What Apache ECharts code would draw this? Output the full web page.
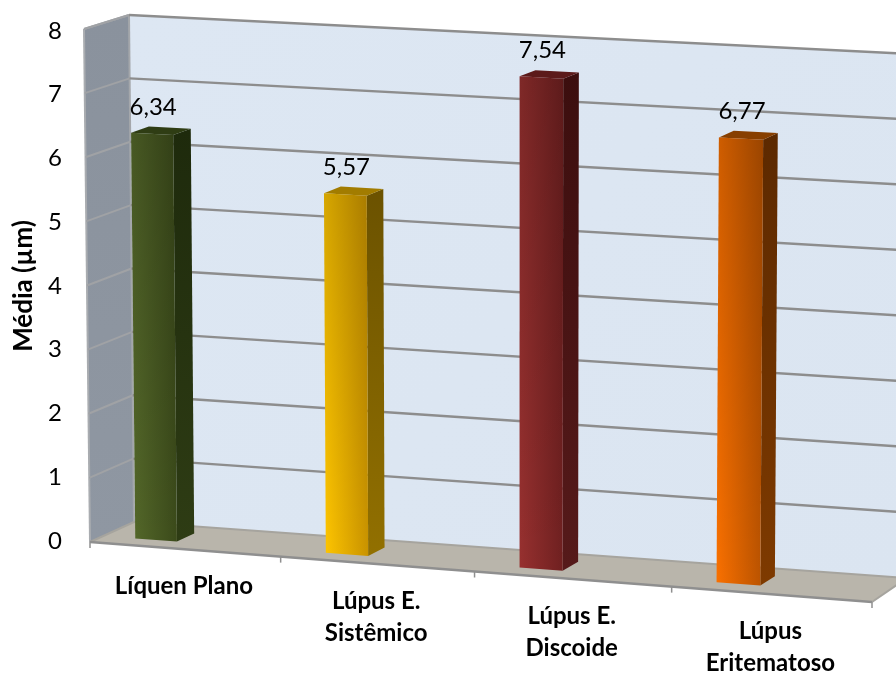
<!DOCTYPE html>
<html>
<head>
<meta charset="utf-8">
<style>html,body{margin:0;padding:0;background:#fff}#chart{width:896px;height:674px}</style>
<script src="https://cdn.jsdelivr.net/npm/echarts@6/dist/echarts.min.js"></script>
</head>
<body>
<div id="chart"></div>
<script>
// Mean measurement per diagnosis
const categories = ['Líquen Plano', 'Lúpus E.\nSistêmico', 'Lúpus E.\nDiscoide', 'Lúpus\nEritematoso'];
const values = [6.34, 5.57, 7.54, 6.77];
const yTicks = [0, 1, 2, 3, 4, 5, 6, 7, 8];
const axisTitle = 'Média (µm)';

// Bar shades: front-left, front-right, side top, side bottom, cap
const barShades = [
  ['#55692a', '#3b4a1a', '#1e2a0c', '#2e3c14', '#2f3d14'],
  ['#ffc600', '#c99300', '#6b5200', '#927000', '#a27c00'],
  ['#97302f', '#6f2020', '#3c0e0e', '#561a1a', '#5c1a1a'],
  ['#f97000', '#b85200', '#5c2900', '#7e3a00', '#873f00']
];

// Plot rectangle of the flat axes
const gridLeft = 90, gridRight = 871, gridTop = 31, gridBottom = 541;

// Corners of the chart box on screen, used to tilt the flat plot into perspective
const box = {
  fbl: [90, 542], fbr: [872, 602], ftl: [84, 29], ftr: [877, 70],
  bbl: [134, 522], bbr: [907, 578], btl: [129, 15], btr: [912, 54]
};
const foreshorten = 0.033;
const mix = (a, b, t) => [a[0] + (b[0] - a[0]) * t, a[1] + (b[1] - a[1]) * t];

function tilt(px, py, depth) {
  const raw = (px - gridLeft) / (gridRight - gridLeft);
  const u = raw - foreshorten * raw * (1 - raw);
  const v = (gridBottom - py) / (gridBottom - gridTop);
  const front = mix(mix(box.fbl, box.fbr, u), mix(box.ftl, box.ftr, u), v);
  const back = mix(mix(box.bbl, box.bbr, u), mix(box.btl, box.btr, u), v);
  return mix(front, back, depth);
}

// Position on the tilted box for an axis value pair
function place(api, cat, val, depth, bandShift) {
  const p = api.coord([cat, val]);
  return tilt(p[0] + (bandShift || 0) * api.size([1, 0])[0], p[1], depth);
}

const lineColor = '#8d8d8d';
const poly = (points, style) => ({ type: 'polygon', shape: { points }, style });
const stroke = (a, b, color, width) => ({
  type: 'line',
  shape: { x1: a[0], y1: a[1], x2: b[0], y2: b[1] },
  style: { stroke: color || lineColor, lineWidth: width || 2.4 }
});
const vgrad = (x2, y2, c0, c1) => ({ type: 'linear', x: 0, y: 0, x2, y2, colorStops: [{ offset: 0, color: c0 }, { offset: 1, color: c1 }] });

// Walls and floor of the box
function renderBox(params, api) {
  const n = categories.length - 1;
  const vMax = yTicks[yTicks.length - 1];
  const fl0 = place(api, 0, 0, 0, -0.5), fr0 = place(api, n, 0, 0, 0.5);
  const bl0 = place(api, 0, 0, 1, -0.5), br0 = place(api, n, 0, 1, 0.5);
  const flT = place(api, 0, vMax, 0, -0.5);
  const blT = place(api, 0, vMax, 1, -0.5), brT = place(api, n, vMax, 1, 0.5);
  const children = [
    poly([bl0, br0, brT, blT], { fill: vgrad(1, 1, '#dde7f3', '#dbe5f1') }),
    poly([fl0, bl0, blT, flT], { fill: vgrad(0, 1, '#8a929d', '#8f97a2') }),
    poly([fl0, fr0, br0, bl0], { fill: '#b9b5ab' })
  ];
  children.push(stroke(flT, blT, '#a4a7ab', 2), stroke(fl0, flT, '#a9acb0', 2), stroke(bl0, blT, '#a4a7ab', 2));
  children.push(stroke(bl0, br0, '#a6a49e', 2), stroke(fl0, bl0, '#a6a49e', 2), stroke(fr0, br0, '#a6a49e', 2));
  children.push(stroke(fl0, fr0, '#8f8f8f', 2.5));
  // Tick marks under the front edge of the floor
  for (let i = 0; i <= categories.length; i++) {
    const t = place(api, 0, 0, 0, i - 0.5);
    children.push(stroke(t, [t[0], t[1] + 6], '#8f8f8f', 1.5));
  }
  return { type: 'group', children };
}

// One gridline per tick across the side and back walls
function renderGridline(params, api) {
  const n = categories.length - 1;
  const v = api.value(1);
  if (v === 0) return { type: 'group', children: [] };
  const a = place(api, 0, v, 0, -0.5), b = place(api, 0, v, 1, -0.5), c = place(api, n, v, 1, 0.5);
  return { type: 'group', children: [stroke(a, b, '#a0a2a5', 2), stroke(b, c)] };
}

// Box-shaped column with its value on top
function renderBar(params, api) {
  const i = api.value(0), v = api.value(1);
  const s = barShades[i];
  const near = 0.3, far = 0.7, left = -0.33, right = -0.11;
  const fl0 = place(api, i, 0, near, left), fr0 = place(api, i, 0, near, right);
  const flT = place(api, i, v, near, left), frT = place(api, i, v, near, right);
  const br0 = place(api, i, 0, far, right), brT = place(api, i, v, far, right);
  const blT = place(api, i, v, far, left);
  const mid = mix(flT, frT, 0.5);
  return {
    type: 'group',
    children: [
      poly([fr0, br0, brT, frT], { fill: vgrad(0, 1, s[2], s[3]) }),
      poly([flT, frT, brT, blT], { fill: s[4] }),
      poly([fl0, fr0, frT, flT], { fill: vgrad(1, 0, s[0], s[1]) }),
      poly([fl0, fr0, frT, flT], { fill: vgrad(0, 1, 'rgba(0,0,0,0.16)', 'rgba(0,0,0,0)') }),
      {
        type: 'text',
        style: {
          x: mid[0] + 1, y: mid[1] - 27,
          text: v.toFixed(2).replace('.', ','),
          align: 'center', verticalAlign: 'middle',
          font: '24px Lato', fill: '#000'
        }
      }
    ]
  };
}

// Category names stepped down along the sloping floor edge
function renderCategory(params, api) {
  const i = api.value(0);
  const p = place(api, i, 0, 0, 0);
  return {
    type: 'text',
    style: {
      x: p[0] - 1, y: p[1] + 21,
      text: categories[i],
      align: 'center', verticalAlign: 'top',
      font: 'bold 24px Lato', lineHeight: 32, fill: '#000'
    }
  };
}

const chart = echarts.init(document.getElementById('chart'), null, { renderer: 'canvas' });
chart.setOption({
  animation: false,
  backgroundColor: '#fff',
  grid: { left: gridLeft, right: 896 - gridRight, top: gridTop, height: gridBottom - gridTop, containLabel: false, outerBoundsMode: 'none' },
  xAxis: {
    type: 'category',
    data: categories,
    axisLine: { show: false },
    axisTick: { show: false },
    axisLabel: { show: false },
    splitLine: { show: false }
  },
  yAxis: {
    type: 'value',
    min: yTicks[0],
    max: yTicks[yTicks.length - 1],
    interval: 1,
    name: axisTitle,
    nameLocation: 'middle',
    nameGap: 53,
    nameTextStyle: { fontFamily: 'Lato', fontWeight: 'bold', fontSize: 26, color: '#000' },
    axisLine: { show: false },
    axisTick: { show: false },
    splitLine: { show: false },
    axisLabel: { margin: 28, fontFamily: 'Lato', fontSize: 24, color: '#000' }
  },
  series: [
    { type: 'custom', z: 1, silent: true, clip: false, data: [[0, 0]], renderItem: renderBox },
    { type: 'custom', z: 2, silent: true, clip: false, data: yTicks.map(t => [0, t]), renderItem: renderGridline },
    { type: 'custom', z: 3, silent: true, clip: false, data: values.map((v, i) => [i, v]), renderItem: renderBar },
    { type: 'custom', z: 3, silent: true, clip: false, data: categories.map((c, i) => [i, 0]), renderItem: renderCategory }
  ]
});
</script>
</body>
</html>
